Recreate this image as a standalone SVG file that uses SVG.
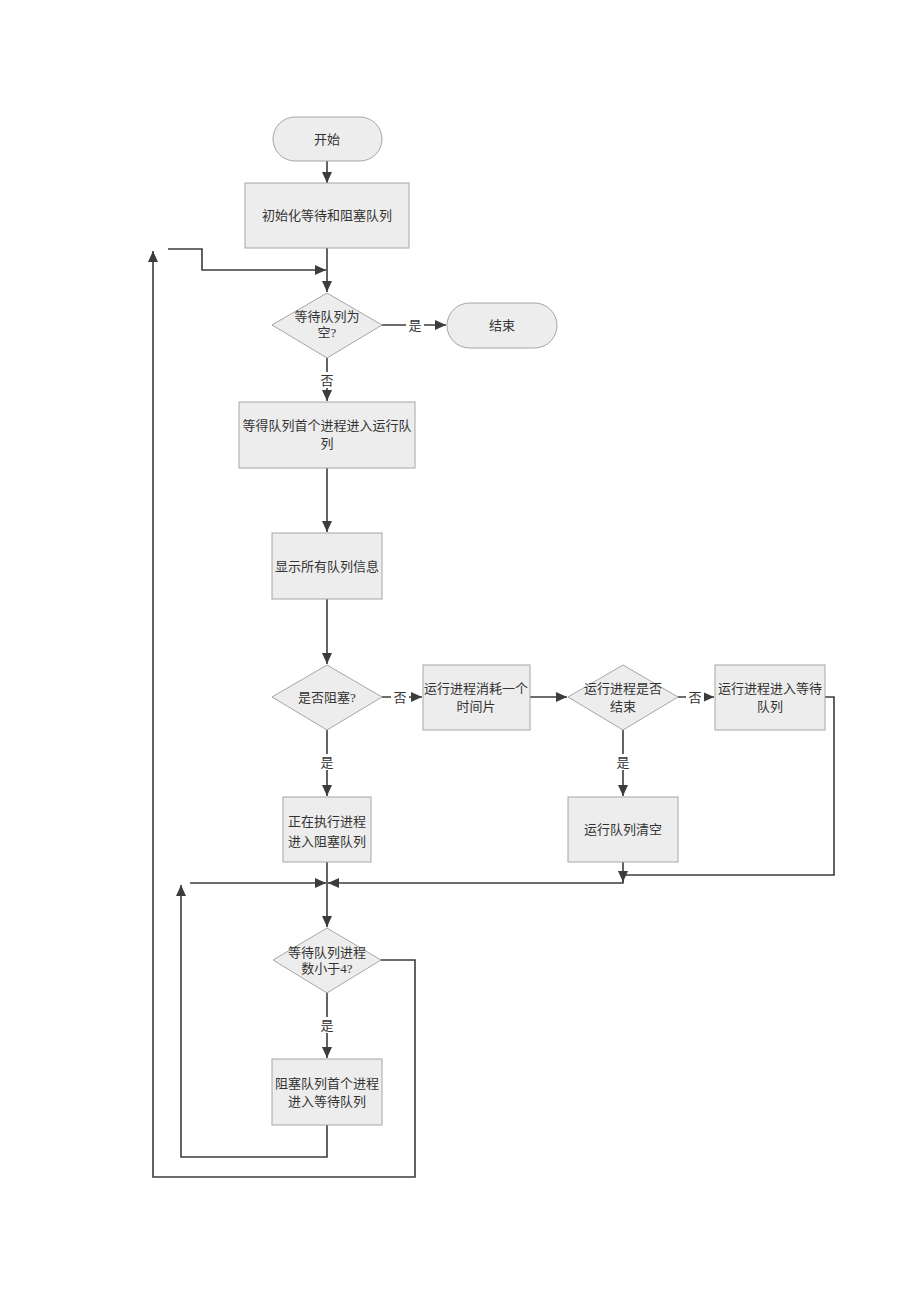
<svg xmlns="http://www.w3.org/2000/svg" width="920" height="1302" viewBox="0 0 920 1302">
<style>
.box{fill:#ededed;stroke:#a6a6a6;stroke-width:1}
.t{font-family:"Liberation Serif","Noto Sans CJK SC",serif;font-size:13px;fill:#333;text-anchor:middle;dominant-baseline:central}
.c{fill:none;stroke:#3c3c3c;stroke-width:1.6}
.lbl{font-family:"Liberation Serif","Noto Sans CJK SC",serif;font-size:13px;fill:#333;text-anchor:middle;dominant-baseline:central}
.lb{fill:#fff}
</style>
<defs>
<marker id="ah" markerWidth="12" markerHeight="10" refX="11" refY="5" orient="auto" markerUnits="userSpaceOnUse">
<path d="M0,0 L11,5 L0,10 Z" fill="#3c3c3c"/>
</marker>
</defs>
<rect width="920" height="1302" fill="#fff"/>
<g id="connectors">
<path class="c" d="M327,161 V183" marker-end="url(#ah)"/>
<path class="c" d="M327,248 V292" marker-end="url(#ah)"/>
<path class="c" d="M168,249 H202 V270 H326" marker-end="url(#ah)"/>
<path class="c" d="M382,325 H446" marker-end="url(#ah)"/>
<path class="c" d="M327,358 V401" marker-end="url(#ah)"/>
<path class="c" d="M327,468 V532" marker-end="url(#ah)"/>
<path class="c" d="M327,599 V664" marker-end="url(#ah)"/>
<path class="c" d="M382,697 H422" marker-end="url(#ah)"/>
<path class="c" d="M530,697 H567" marker-end="url(#ah)"/>
<path class="c" d="M678,697 H714" marker-end="url(#ah)"/>
<path class="c" d="M327,730 V796" marker-end="url(#ah)"/>
<path class="c" d="M623,730 V796" marker-end="url(#ah)"/>
<path class="c" d="M825,697 H834 V875 H623 V882" marker-end="url(#ah)"/>
<path class="c" d="M623,862 V883 H328" marker-end="url(#ah)"/>
<path class="c" d="M190,883 H326" marker-end="url(#ah)"/>
<path class="c" d="M327,862 V927" marker-end="url(#ah)"/>
<path class="c" d="M327,992 V1058" marker-end="url(#ah)"/>
<path class="c" d="M327,1125 V1157 H181 V885" marker-end="url(#ah)"/>
<path class="c" d="M381,960 H415 V1177 H153 V251" marker-end="url(#ah)"/>
<rect class="lb" x="406" y="317" width="18" height="16"/>
<text class="lbl" x="415" y="325">是</text>
<rect class="lb" x="318" y="372" width="18" height="16"/>
<text class="lbl" x="327" y="380">否</text>
<rect class="lb" x="391" y="689" width="18" height="16"/>
<text class="lbl" x="400" y="697">否</text>
<rect class="lb" x="686" y="689" width="18" height="16"/>
<text class="lbl" x="695" y="697">否</text>
<rect class="lb" x="318" y="754" width="18" height="16"/>
<text class="lbl" x="327" y="762">是</text>
<rect class="lb" x="614" y="754" width="18" height="16"/>
<text class="lbl" x="623" y="762">是</text>
<rect class="lb" x="318" y="1017" width="18" height="16"/>
<text class="lbl" x="327" y="1025">是</text>
</g>
<g id="start">
<rect class="box" x="273" y="117" width="109" height="44" rx="22"/>
<text class="t" x="327" y="139">开始</text>
</g>
<g id="init">
<rect class="box" x="245" y="183" width="164" height="65"/>
<text class="t" x="327" y="215">初始化等待和阻塞队列</text>
</g>
<g id="d1">
<polygon class="box" points="327,293 382,325 327,358 272,325"/>
<text class="t" x="327" y="316">等待队列为</text>
<text class="t" x="327" y="332">空?</text>
</g>
<g id="end">
<rect class="box" x="447" y="303" width="110" height="45" rx="22.5"/>
<text class="t" x="502" y="325">结束</text>
</g>
<g id="b3">
<rect class="box" x="239" y="402" width="176" height="66"/>
<text class="t" x="327" y="425">等得队列首个进程进入运行队</text>
<text class="t" x="327" y="443">列</text>
</g>
<g id="b4">
<rect class="box" x="272" y="533" width="110" height="66"/>
<text class="t" x="327" y="566">显示所有队列信息</text>
</g>
<g id="d2">
<polygon class="box" points="327,665 382,697 327,730 272,697"/>
<text class="t" x="327" y="697">是否阻塞?</text>
</g>
<g id="b5">
<rect class="box" x="423" y="665" width="107" height="65"/>
<text class="t" x="476" y="688">运行进程消耗一个</text>
<text class="t" x="476" y="706">时间片</text>
</g>
<g id="d3">
<polygon class="box" points="623,665 678,697 623,730 568,697"/>
<text class="t" x="623" y="688">运行进程是否</text>
<text class="t" x="623" y="706">结束</text>
</g>
<g id="b6">
<rect class="box" x="715" y="665" width="110" height="65"/>
<text class="t" x="770" y="688">运行进程进入等待</text>
<text class="t" x="770" y="706">队列</text>
</g>
<g id="b7">
<rect class="box" x="283" y="797" width="88" height="65"/>
<text class="t" x="327" y="821">正在执行进程</text>
<text class="t" x="327" y="841">进入阻塞队列</text>
</g>
<g id="b8">
<rect class="box" x="568" y="797" width="110" height="65"/>
<text class="t" x="623" y="829">运行队列清空</text>
</g>
<g id="d4">
<polygon class="box" points="327,928 381,960 327,993 273,960"/>
<text class="t" x="327" y="952">等待队列进程</text>
<text class="t" x="327" y="968">数小于4?</text>
</g>
<g id="b9">
<rect class="box" x="272" y="1059" width="110" height="66"/>
<text class="t" x="327" y="1083">阻塞队列首个进程</text>
<text class="t" x="327" y="1101">进入等待队列</text>
</g>
</svg>
